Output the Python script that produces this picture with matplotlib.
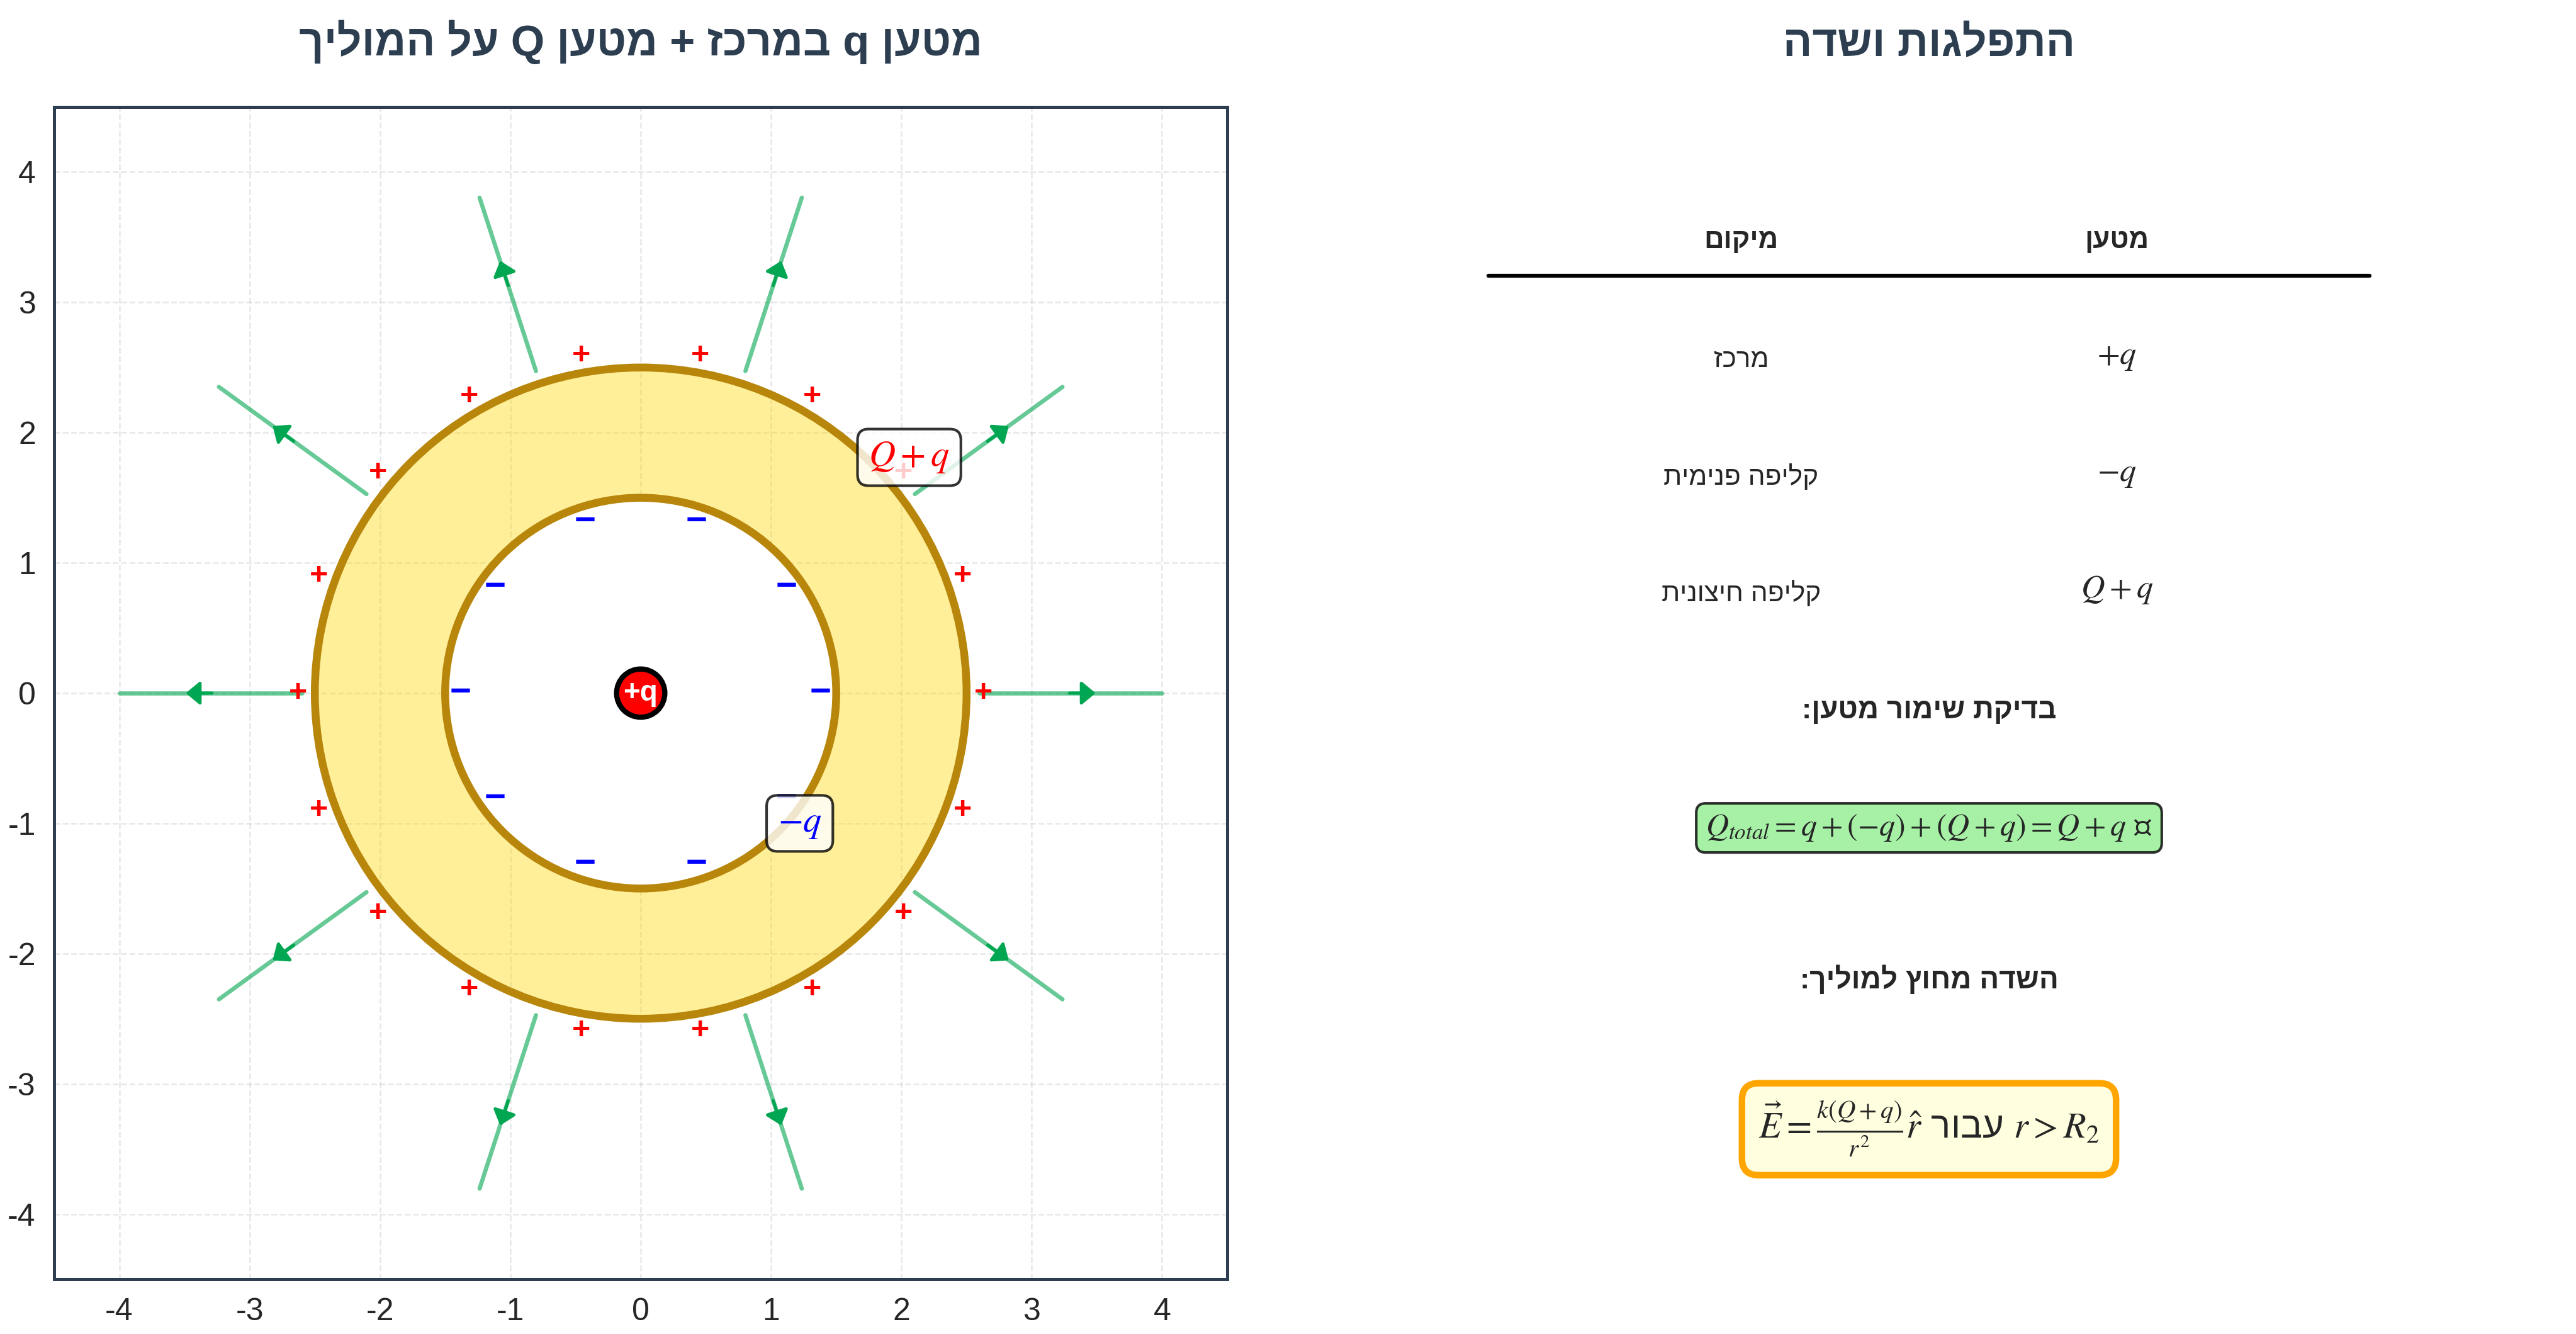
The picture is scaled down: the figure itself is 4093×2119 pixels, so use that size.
import re
import numpy as np
import matplotlib
matplotlib.use("Agg")
import matplotlib.pyplot as plt
from matplotlib.patches import Circle

plt.rcParams["font.family"] = ["Liberation Sans", "DejaVu Sans"]
plt.rcParams["mathtext.fontset"] = "stix"
plt.rcParams["text.color"] = "#262626"

W, H = 4093, 2119

# geometry of the conductor
R_INNER = 1.5
R_OUTER = 2.5
R_CENTER = 0.185

# charges and field lines (angle in degrees)
plus_angles = [0, 20, 40, 60, 80, 100, 120, 140, 160, 180, 200, 220, 240, 260, 280, 300, 320, 340]
minus_angles = [0, 36, 72, 108, 144, 180, 216, 252, 288, 324]
field_angles = [0, 36, 72, 108, 144, 180, 216, 252, 288, 324]
plus_r = 2.63
minus_r = 1.38
field_start = 2.6
field_end = 4.0
arrow_from = 3.29
arrow_to = 3.49

ticks = [-4, -3, -2, -1, 0, 1, 2, 3, 4]

# right panel text
title_left = "מטען q במרכז + מטען Q על המוליך"
title_right = "התפלגות ושדה"
table_headers = ["מיקום", "מטען"]
table_places = ["מרכז", "קליפה פנימית", "קליפה חיצונית"]
table_charges = [r"$+q$", r"$-q$", r"$Q+q$"]
table_rows_y = [7.84, 6.84, 5.85]
check_title = "בדיקת שימור מטען:"
field_title = "השדה מחוץ למוליך:"
DARK = "#2c3e50"
GREEN = "#00A651"


def heb(s):
    # matplotlib lays text out left to right, so put hebrew in visual order
    parts = re.split(r"([A-Za-z]+)", s[::-1])
    return "".join(p[::-1] if re.fullmatch(r"[A-Za-z]+", p) else p for p in parts)


def axes_rect(left, right, top, bottom):
    return [left / W, 1 - bottom / H, (right - left) / W, (bottom - top) / H]


fig = plt.figure(figsize=(W / 300, H / 300), dpi=300)
ax = fig.add_axes(axes_rect(86, 1950, 170, 2032))
ax2 = fig.add_axes(axes_rect(2132, 3998, 170, 2032))

# left panel
ax.set_xlim(-4.5, 4.5)
ax.set_ylim(-4.5, 4.5)
ax.set_xticks(ticks)
ax.set_yticks(ticks)
ax.tick_params(length=0, labelsize=12, pad=7, colors="#262626")
ax.set_xticklabels([str(t) for t in ticks])
ax.set_yticklabels([str(t) for t in ticks])
ax.grid(True, color="#b0b0b0", linestyle="--", linewidth=0.6, alpha=0.3)
for s in ax.spines.values():
    s.set_color(DARK)
    s.set_linewidth(1.2)

ax.add_patch(Circle((0, 0), R_OUTER, facecolor=(1, 0.843, 0, 0.4), edgecolor="#B8860B", linewidth=3, zorder=2))
ax.add_patch(Circle((0, 0), R_INNER, facecolor="white", edgecolor="#B8860B", linewidth=3, zorder=2))
ax.add_patch(Circle((0, 0), R_CENTER, facecolor="red", edgecolor="black", linewidth=2, zorder=5))
ax.text(0, 0, "+q", color="white", fontsize=11, fontweight="bold", ha="center", va="center", zorder=6)

for a in plus_angles:
    t = np.radians(a)
    ax.text(plus_r * np.cos(t), plus_r * np.sin(t), "+", color="red", fontsize=12, fontweight="bold",
            ha="center", va="center", zorder=4)
for a in minus_angles:
    t = np.radians(a)
    ax.text(minus_r * np.cos(t), minus_r * np.sin(t), "−", color="blue", fontsize=14, fontweight="bold",
            ha="center", va="center", zorder=4)
for a in field_angles:
    t = np.radians(a)
    c, s = np.cos(t), np.sin(t)
    ax.plot([field_start * c, field_end * c], [field_start * s, field_end * s], color=GREEN,
            linewidth=1.6, alpha=0.6, solid_capstyle="round", zorder=3)
    ax.annotate("", xy=(arrow_to * c, arrow_to * s), xytext=(arrow_from * c, arrow_from * s),
                arrowprops=dict(arrowstyle="-|>,head_length=0.3,head_width=0.25", color=GREEN, lw=1.2,
                                mutation_scale=15, shrinkA=0, shrinkB=0),
                zorder=3)

ax.text(2.06, 1.81, r"$Q+q$", color="red", fontsize=14, ha="center", va="center", zorder=7,
        bbox=dict(boxstyle="round,pad=0.3", facecolor="white", edgecolor="black", alpha=0.8))
ax.text(1.22, -1.0, r"$-q$", color="blue", fontsize=14, ha="center", va="center", zorder=7,
        bbox=dict(boxstyle="round,pad=0.3", facecolor="white", edgecolor="black", alpha=0.8))

ax.text(0, 5.0, heb(title_left), color=DARK, fontsize=16.5, fontweight="bold", ha="center", va="center")

# right panel
ax2.set_xlim(0, 10)
ax2.set_ylim(0, 10)
ax2.axis("off")
ax2.text(5, 10.53, heb(title_right), color=DARK, fontsize=16.5, fontweight="bold", ha="center", va="center")
ax2.text(3.4, 8.86, heb(table_headers[0]), fontsize=10.5, fontweight="bold", ha="center", va="center")
ax2.text(6.6, 8.86, heb(table_headers[1]), fontsize=10.5, fontweight="bold", ha="center", va="center")
ax2.plot([1.25, 8.75], [8.56, 8.56], color="black", linewidth=1.5, solid_capstyle="round")
for y, place, charge in zip(table_rows_y, table_places, table_charges):
    ax2.text(3.4, y, heb(place), fontsize=10.2, ha="center", va="center")
    ax2.text(6.6, y + 0.03, charge, fontsize=12.5, ha="center", va="center")

ax2.text(5, 4.85, heb(check_title), fontsize=11, fontweight="bold", ha="center", va="center")
ax2.text(5, 3.85, r"$Q_{total}=q+(-q)+(Q+q)=Q+q$ $¤$", fontsize=12, ha="center", va="center",
         bbox=dict(boxstyle="round,pad=0.3", facecolor="lightgreen", edgecolor="black", alpha=0.8))
ax2.text(5, 2.55, heb(field_title), fontsize=11, fontweight="bold", ha="center", va="center")
ax2.text(5, 1.28, r"$\vec{E}=\frac{k(Q+q)}{r^2}\hat{r}$ " + heb("עבור") + r" $r>R_2$", fontsize=14,
         ha="center", va="center",
         bbox=dict(boxstyle="round,pad=0.45", facecolor="lightyellow", edgecolor="orange", linewidth=2.5))

fig.savefig("out.png", dpi=300)
